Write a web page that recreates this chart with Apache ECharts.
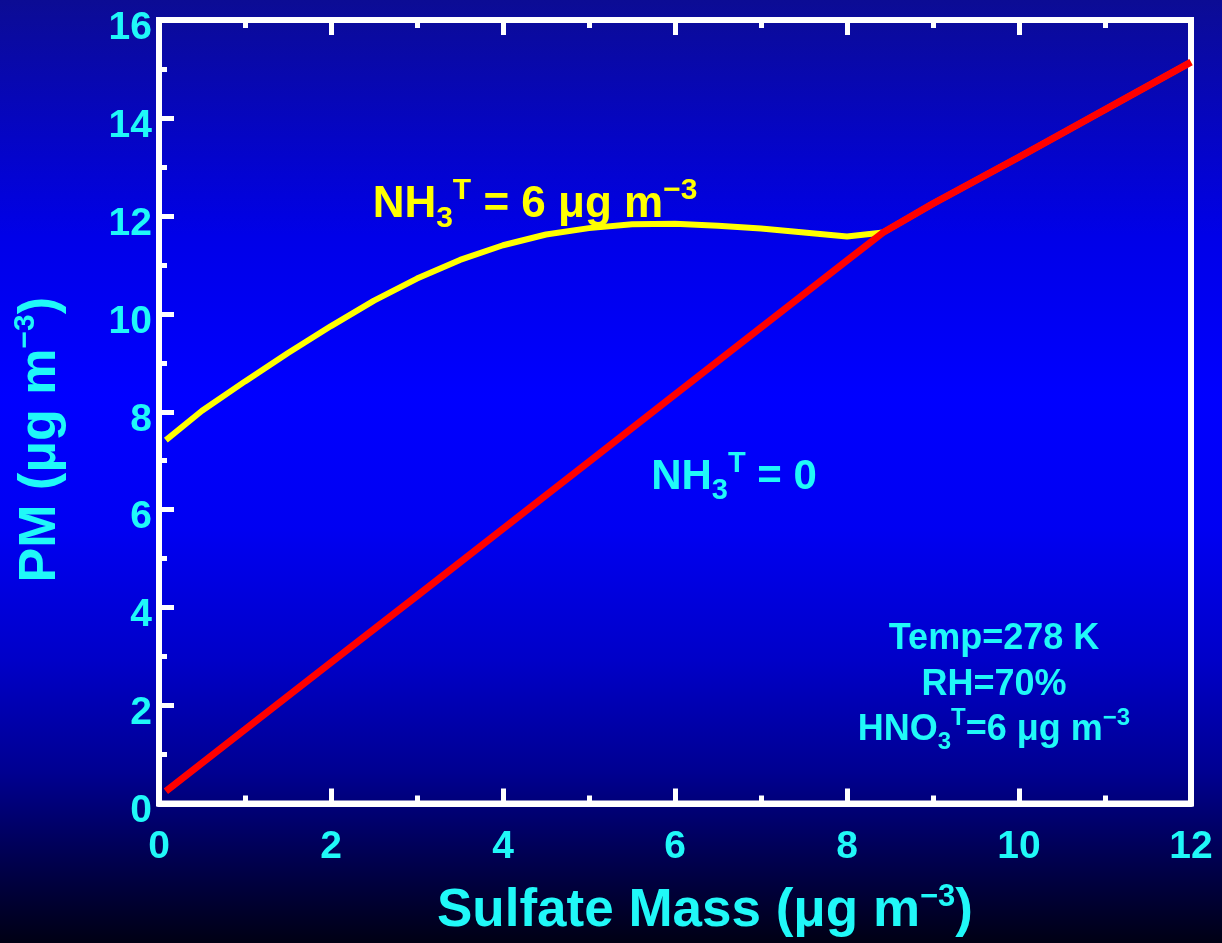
<!DOCTYPE html>
<html>
<head>
<meta charset="utf-8">
<script src="https://cdn.jsdelivr.net/npm/echarts@6/dist/echarts.min.js"></script>
<style>
html, body { margin: 0; padding: 0; background: #000; }
#chart { width: 1222px; height: 943px; }
</style>
</head>
<body>
<div id="chart"></div>
<script>
// sulfate mass (x) and PM (y)
const sulfateNH3 = [0.08, 0.5, 1, 1.5, 2, 2.5, 3, 3.5, 4, 4.5, 5, 5.5, 6, 6.5, 7, 7.5, 8, 8.42, 9, 10, 11, 12];
const pmNH3 = [7.42, 8.02, 8.62, 9.2, 9.75, 10.27, 10.72, 11.1, 11.4, 11.62, 11.75, 11.83, 11.84, 11.8, 11.74, 11.66, 11.58, 11.66, 12.25, 13.2, 14.17, 15.14];
const sulfateNoNH3 = [0.08, 1, 2, 3, 4, 5, 6, 7, 8, 8.42, 9, 10, 11, 12];
const pmNoNH3 = [0.25, 1.51, 2.88, 4.24, 5.61, 6.98, 8.35, 9.72, 11.09, 11.66, 12.25, 13.2, 14.17, 15.14];

const labelNH3 = '{b|NH}{sub|3}{sup|T}{b| = 6 μg m}{sup|−3}';
const labelNoNH3 = '{b|NH}{sub|3}{sup|T}{b| = 0}';
const condLines = ['{b|Temp=278 K}', '{b|RH=70%}', '{b|HNO}{sub|3}{sup|T}{b|=6 μg m}{sup|−3}'];
const xTitle = '{b|Sulfate Mass (μg m}{sup|−3}{b|)}';
const yTitle = '{b|PM (μg m}{sup|−3}{b|)}';

const font = 'Liberation Sans, Arial, sans-serif';
const cyan = '#20f8f8';

// rich styles for super/subscripts
const makeRich = (color, size, small, lh, subLh, supLh) => ({
    b: { fontSize: size, fontWeight: 'bold', fontFamily: font, color: color, fill: color, lineHeight: lh, verticalAlign: 'middle' },
    sub: { fontSize: small, fontWeight: 'bold', fontFamily: font, color: color, fill: color, lineHeight: subLh, verticalAlign: 'bottom' },
    sup: { fontSize: small, fontWeight: 'bold', fontFamily: font, color: color, fill: color, lineHeight: supLh, verticalAlign: 'top' },
});

const toPairs = (xs, ys) => xs.map((x, i) => [x, ys[i]]);

const chart = echarts.init(document.getElementById('chart'));

const tickStyle = { color: '#fff', width: 5 };

chart.setOption({
    animation: false,
    backgroundColor: {
        type: 'linear', x: 0, y: 0, x2: 0, y2: 1,
        colorStops: [
            { offset: 0, color: '#0c0c94' },
            { offset: 0.25, color: '#0000e8' },
            { offset: 0.42, color: '#0000ff' },
            { offset: 0.56, color: '#0000f2' },
            { offset: 0.7, color: '#0000c8' },
            { offset: 0.82, color: '#000090' },
            { offset: 0.91, color: '#000050' },
            { offset: 1, color: '#000014' },
        ],
    },
    grid: {
        left: 159,
        right: 31,
        top: 20,
        bottom: 134,
        show: true,
        borderColor: '#fff',
        borderWidth: 6,
        backgroundColor: 'transparent',
    },
    xAxis: [
        {
            type: 'value',
            min: 0,
            max: 12,
            interval: 2,
            name: xTitle,
            nameLocation: 'middle',
            nameGap: 78,
            nameTextStyle: { rich: makeRich(cyan, 53, 31, 60, 30, 42), padding: [0, 0, 0, 60] },
            axisLine: { show: true, lineStyle: { color: '#fff', width: 6 } },
            axisTick: { show: true, inside: true, length: 15, lineStyle: tickStyle },
            minorTick: { show: true, splitNumber: 2, length: 8, lineStyle: tickStyle },
            axisLabel: { color: cyan, fontSize: 39, fontWeight: 'bold', fontFamily: font, margin: 24 },
            splitLine: { show: false },
        },
        {
            type: 'value',
            position: 'top',
            min: 0,
            max: 12,
            interval: 2,
            axisLine: { show: true, lineStyle: { color: '#fff', width: 6 } },
            axisTick: { show: true, inside: true, length: 15, lineStyle: tickStyle },
            minorTick: { show: true, splitNumber: 2, length: 8, lineStyle: tickStyle },
            axisLabel: { show: false },
            splitLine: { show: false },
        },
    ],
    yAxis: {
        type: 'value',
        min: 0,
        max: 16,
        interval: 2,
        name: yTitle,
        nameLocation: 'middle',
        nameGap: 88,
        nameTextStyle: { rich: makeRich(cyan, 52, 30, 60, 30, 42), padding: [0, 56, 0, 0] },
        axisLine: { show: true, lineStyle: { color: '#fff', width: 6 } },
        axisTick: { show: true, inside: true, length: 15, lineStyle: tickStyle },
        minorTick: { show: true, splitNumber: 2, length: 8, lineStyle: tickStyle },
        axisLabel: { color: cyan, fontSize: 39, fontWeight: 'bold', fontFamily: font, margin: 7, verticalAlign: 'top', lineHeight: 16 },
        splitLine: { show: false },
    },
    series: [
        {
            name: 'NH3T = 6',
            type: 'line',
            data: toPairs(sulfateNH3, pmNH3),
            showSymbol: false,
            lineStyle: { color: '#ffff00', width: 6 },
            z: 2,
        },
        {
            name: 'NH3T = 0',
            type: 'line',
            data: toPairs(sulfateNoNH3, pmNoNH3),
            showSymbol: false,
            lineStyle: { color: '#ff0000', width: 7 },
            z: 3,
        },
    ],
    graphic: [
        {
            type: 'text', x: 535, y: 205, z: 10,
            style: { text: labelNH3, rich: makeRich('#ffff00', 44, 30, 58, 24, 40), align: 'center', verticalAlign: 'middle', fill: '#ffff00' },
        },
        {
            type: 'text', x: 734, y: 477, z: 10,
            style: { text: labelNoNH3, rich: makeRich(cyan, 42, 29, 56, 24, 38), align: 'center', verticalAlign: 'middle', fill: cyan },
        },
        {
            type: 'text', x: 994, y: 639, z: 10,
            style: { text: condLines[0], rich: makeRich(cyan, 36, 24, 48, 18, 38), align: 'center', verticalAlign: 'middle', fill: cyan },
        },
        {
            type: 'text', x: 994, y: 685, z: 10,
            style: { text: condLines[1], rich: makeRich(cyan, 36, 24, 48, 18, 38), align: 'center', verticalAlign: 'middle', fill: cyan },
        },
        {
            type: 'text', x: 994, y: 730, z: 10,
            style: { text: condLines[2], rich: makeRich(cyan, 36, 24, 48, 18, 38), align: 'center', verticalAlign: 'middle', fill: cyan },
        },
    ],
});
</script>
</body>
</html>
